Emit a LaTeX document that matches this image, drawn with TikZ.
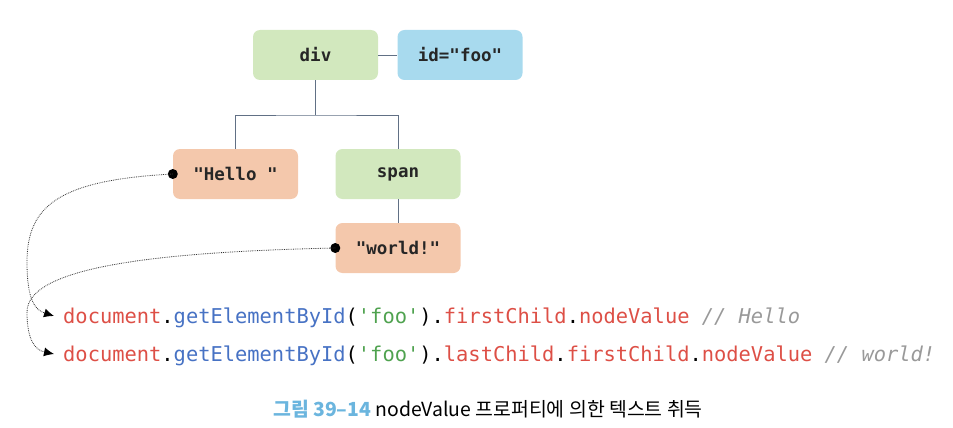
\documentclass[tikz,border=0pt]{standalone}
\usepackage{fontspec}
\setmonofont{DejaVu Sans Mono}
\newfontfamily\krfont{Noto Sans CJK KR}
\usetikzlibrary{arrows.meta}

\newlength{\du}
\setlength{\du}{1pt}

\definecolor{elemcolor}{rgb}{0.824, 0.910, 0.745}
\definecolor{attrcolor}{rgb}{0.659, 0.855, 0.933}
\definecolor{textcolor}{rgb}{0.957, 0.784, 0.675}
\definecolor{boxtext}{rgb}{0.150, 0.150, 0.150}
\definecolor{treecolor}{rgb}{0.380, 0.440, 0.520}
\definecolor{codered}{rgb}{0.867, 0.310, 0.275}
\definecolor{codeblue}{rgb}{0.278, 0.447, 0.769}
\definecolor{codegreen}{rgb}{0.310, 0.635, 0.310}
\definecolor{codegray}{rgb}{0.600, 0.600, 0.600}
\definecolor{capblue}{rgb}{0.420, 0.710, 0.870}

\begin{document}
\begin{tikzpicture}[
  box/.style={rounded corners=7\du, minimum width=125\du, minimum height=50\du,
    inner sep=0pt, text=boxtext, font=\ttfamily\bfseries\fontsize{17.5}{20}\selectfont},
  tree/.style={draw=treecolor, line width=0.9\du},
  ref/.style={densely dotted, line width=0.8\du, draw=black!80, -{Latex[length=10pt,width=9pt,color=black,fill=black]}},
  code/.style={anchor=base west, inner sep=0pt, font=\ttfamily\fontsize{20.4}{24}\selectfont}
]
\pgftransformyscale{-1}
\useasboundingbox (0\du,0\du) rectangle (953\du,428\du);

% element nodes
\node[box, fill=elemcolor] (div) at (315.5\du,55\du) {div};
\node[box, fill=attrcolor] (id) at (460\du,55\du) {id="foo"};
\node[box, fill=textcolor] (hello) at (235.5\du,174\du) {"Hello "};
\node[box, fill=elemcolor] (span) at (398\du,174\du) {span};
\node[box, fill=textcolor] (world) at (398\du,248\du) {"world!"};

% tree lines
\coordinate (fork) at (315.5\du,115\du);
\draw[tree] (div.east) -- (id.west);
\draw[tree] (div.south) -- (fork);
\draw[tree] (hello.north) |- (fork) -| (span.north);
\draw[tree] (span.south) -- (world.north);

% code lines
\node[code] (code1) at (63\du,323\du) {\textcolor{codered}{document}.\textcolor{codeblue}{getElementById}(\textcolor{codegreen}{'foo'}).\textcolor{codered}{firstChild}.\textcolor{codered}{nodeValue} \textcolor{codegray}{\itshape // Hello}};
\node[code] (code2) at (63\du,361\du) {\textcolor{codered}{document}.\textcolor{codeblue}{getElementById}(\textcolor{codegreen}{'foo'}).\textcolor{codered}{lastChild}.\textcolor{codered}{firstChild}.\textcolor{codered}{nodeValue} \textcolor{codegray}{\itshape // world!}};
\coordinate (tip1) at (54\du,316\du);
\coordinate (tip2) at (54\du,354\du);

% references
\fill (hello.west) circle (5\du);
\fill (world.west) circle (5\du);
\draw[ref] (hello.west) .. controls (60\du,180\du) and (27\du,205\du) .. (27\du,262\du) .. controls (27\du,300\du) and (35\du,310\du) .. (tip1);
\draw[ref] (world.west) .. controls (150\du,252\du) and (27\du,268\du) .. (27\du,312\du) .. controls (27\du,340\du) and (35\du,350\du) .. (tip2);

% caption
\node[inner sep=0pt, font=\krfont\fontsize{19.4}{22}\selectfont] (caption) at (488\du,409\du) {\textcolor{capblue}{\bfseries 그림 39–14} nodeValue 프로퍼티에 의한 텍스트 취득};
\end{tikzpicture}
\end{document}
